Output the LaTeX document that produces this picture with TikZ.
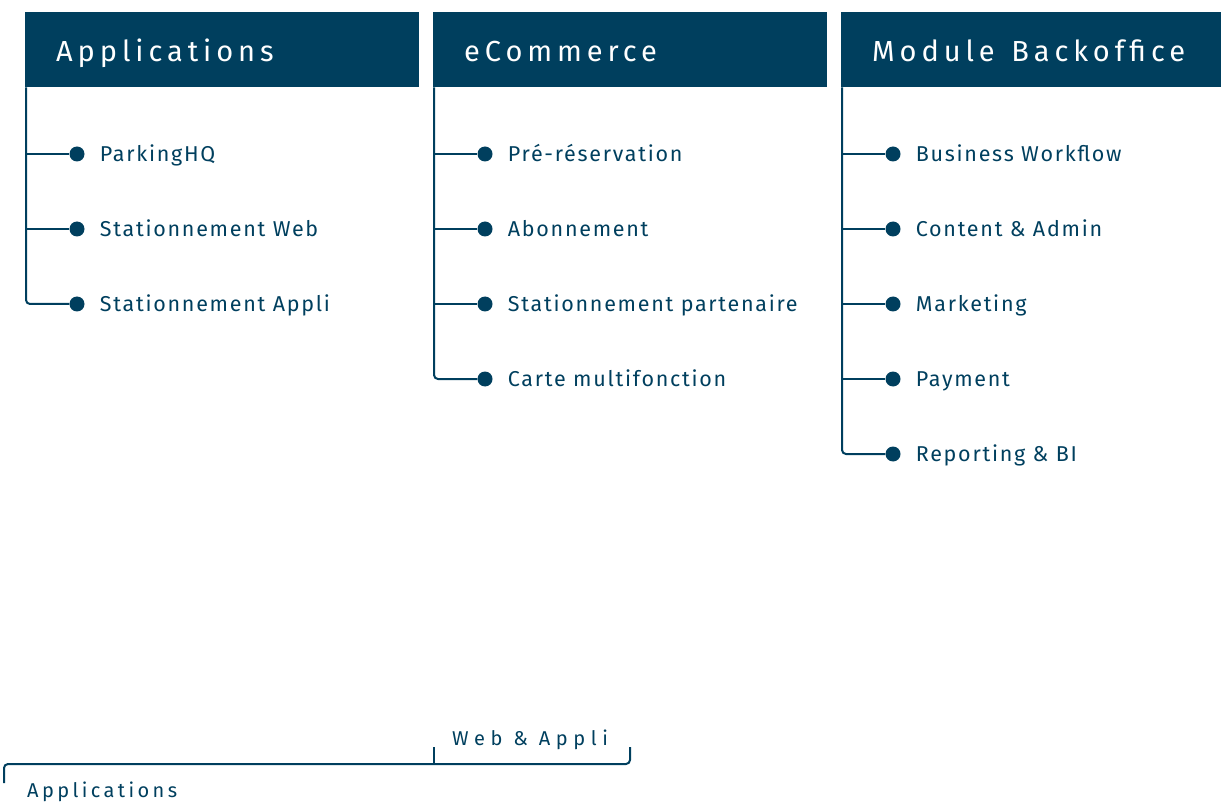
\documentclass[tikz,border=0pt]{standalone}
\usepackage{fontspec}
\setmainfont{Fira Sans}
\newfontfamily\widefont[LetterSpace=17]{Fira Sans}
\newfontfamily\widerfont[LetterSpace=28]{Fira Sans}
\newfontfamily\itemfont[LetterSpace=8]{Fira Sans}
\usetikzlibrary{positioning}
\definecolor{navy}{HTML}{003F5E}
\tikzset{
  header/.style={fill=navy, text=white, anchor=north west, inner ysep=0pt, inner xsep=31pt,
    minimum width=394pt, minimum height=75pt, text width=332pt, align=left,
    text height=23pt, text depth=0pt, font=\widefont\fontsize{29}{32}\selectfont},
  dot/.style={circle, fill=navy, inner sep=0pt, minimum size=15pt},
  item/.style={text=navy, inner sep=0pt, text height=15pt, text depth=0pt,
    font=\itemfont\fontsize{21.5}{24}\selectfont},
  link/.style={navy, line width=2pt, rounded corners=4pt},
  tag/.style={text=navy, inner sep=0pt, anchor=base west, font=\widefont\fontsize{20}{22}\selectfont},
}
\begin{document}
\begin{tikzpicture}[x=1pt, y=-1pt]
  \useasboundingbox (0,0) rectangle (1221,802);

  % column headers
  \node[header] (apps) at (25,12) {Applications};
  \node[header] (ecom) at (433,12) {eCommerce};
  \node[header] (back) at (841,12) {Module\hspace{7pt} Backoffice};
  \coordinate (appsroot) at ([xshift=1pt]apps.south west);
  \coordinate (ecomroot) at ([xshift=1pt]ecom.south west);
  \coordinate (backroot) at ([xshift=1pt]back.south west);

  % Applications
  \foreach \txt [count=\i] in {ParkingHQ, Stationnement Web, Stationnement Appli} {
    \node[dot] (a\i) at (77,79+75*\i) {};
    \node[item, right=15pt of a\i] (at\i) {\txt};
  }
  \draw[link] (appsroot) |- (a3);
  \foreach \i in {1,2} \draw[link] (a\i -| appsroot) -- (a\i);

  % eCommerce
  \foreach \txt [count=\i] in {Pré-réservation, Abonnement, Stationnement partenaire, Carte multifonction} {
    \node[dot] (e\i) at (485,79+75*\i) {};
    \node[item, right=15pt of e\i] (et\i) {\txt};
  }
  \draw[link] (ecomroot) |- (e4);
  \foreach \i in {1,2,3} \draw[link] (e\i -| ecomroot) -- (e\i);

  % Module Backoffice
  \foreach \txt [count=\i] in {Business Workflow, Content \& Admin, Marketing, Payment, Reporting \& BI} {
    \node[dot] (b\i) at (893,79+75*\i) {};
    \node[item, right=15pt of b\i] (bt\i) {\txt};
  }
  \draw[link] (backroot) |- (b5);
  \foreach \i in {1,...,4} \draw[link] (b\i -| backroot) -- (b\i);

  % bottom bracket
  \coordinate (brleft) at (4,783);
  \coordinate (brright) at (630,747);
  \coordinate (brtick) at (434,747);
  \draw[link] (brleft) -- (brleft |- 0,764) -- (brright |- 0,764) -- (brright);
  \draw[link] (brtick) -- (brtick |- brleft |- 0,764);
  \node[tag, font=\widerfont\fontsize{20}{22}\selectfont] (webapp) at (452,745) {Web \& Appli};
  \node[tag] (appstag) at (27,797) {Applications};
\end{tikzpicture}
\end{document}
